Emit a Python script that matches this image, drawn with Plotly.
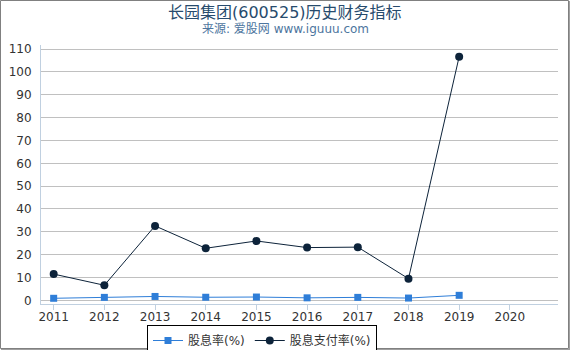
import plotly.graph_objects as go

years = [2011, 2012, 2013, 2014, 2015, 2016, 2017, 2018, 2019]
tick_years = [2011, 2012, 2013, 2014, 2015, 2016, 2017, 2018, 2019, 2020]
dividend_yield = [0.9, 1.3, 1.7, 1.35, 1.45, 1.1, 1.3, 1.0, 2.2]
payout_ratio = [11.5, 6.6, 32.6, 22.8, 26.0, 23.1, 23.3, 9.5, 106.7]
y_ticks = [0, 10, 20, 30, 40, 50, 60, 70, 80, 90, 100, 110]

W, H = 570, 350
L, R, T, B = 41, 12, 45, 46
PW, PH = W - L - R, H - T - B

def px(x):
    return (x - L) / PW

def py(y):
    return (H - B - y) / PH

FONT = "DejaVu Sans, Noto Sans CJK SC, sans-serif"

fig = go.Figure()
fig.add_trace(go.Scatter(
    x=years, y=dividend_yield, name="股息率(%)", mode="lines+markers",
    line=dict(color="#2f7ed8", width=1),
    marker=dict(symbol="square", size=7, color="#2f7ed8"),
))
fig.add_trace(go.Scatter(
    x=years, y=payout_ratio, name="股息支付率(%)", mode="lines+markers",
    line=dict(color="#0d233a", width=1),
    marker=dict(symbol="circle", size=8, color="#0d233a"),
))

fig.update_layout(
    width=W, height=H,
    margin=dict(l=L, r=R, t=T, b=B, pad=0, autoexpand=False),
    paper_bgcolor="white", plot_bgcolor="white",
    font=dict(family=FONT, size=11, color="#333333"),
    showlegend=True,
    legend=dict(
        orientation="h", xref="container", yref="container",
        x=262 / W, y=1 - 325 / H, xanchor="center", yanchor="top",
        bordercolor="#000000", borderwidth=1, font=dict(size=12, color="#333333"),
        itemwidth=30, tracegroupgap=0,
    ),
    xaxis=dict(
        range=[2010.75, 2020.95], tickvals=tick_years, ticktext=[str(t) for t in tick_years],
        showgrid=False, zeroline=False, showline=True, linecolor="#c0d0e0", linewidth=1,
        ticks="outside", ticklen=5, tickcolor="#c0d0e0", tickfont=dict(size=12, color="#333333"),
        ticklabelstandoff=-3,
    ),
    yaxis=dict(
        range=[-1.6, 111.8], tickvals=y_ticks, showgrid=True, gridcolor="#c0c0c0", gridwidth=1,
        zeroline=False, showline=True, linecolor="#c0d0e0", linewidth=1, ticks="",
        tickfont=dict(size=12, color="#333333"), ticklabelstandoff=6,
    ),
    annotations=[
        dict(text="长园集团(600525)历史财务指标", xref="paper", yref="paper",
             x=px(285), y=py(12), xanchor="center", yanchor="middle", showarrow=False,
             font=dict(size=16, color="#274b6d", family=FONT)),
        dict(text="来源: 爱股网 www.iguuu.com", xref="paper", yref="paper",
             x=px(285), y=py(29), xanchor="center", yanchor="middle", showarrow=False,
             font=dict(size=12, color="#4d759e", family=FONT)),
    ],
    shapes=[
        dict(type="rect", xref="paper", yref="paper", x0=px(0.5), x1=px(568.5),
             y0=py(0.5), y1=py(348.5), line=dict(color="#808080", width=1), layer="above"),
        dict(type="line", xref="paper", yref="paper", x0=px(569.5), x1=px(569.5),
             y0=py(1), y1=py(350), line=dict(color="#a0a0a0", width=1), layer="above"),
        dict(type="line", xref="paper", yref="paper", x0=px(1), x1=px(570),
             y0=py(349.5), y1=py(349.5), line=dict(color="#a0a0a0", width=1), layer="above"),
    ],
)

fig.write_html("out.html")
